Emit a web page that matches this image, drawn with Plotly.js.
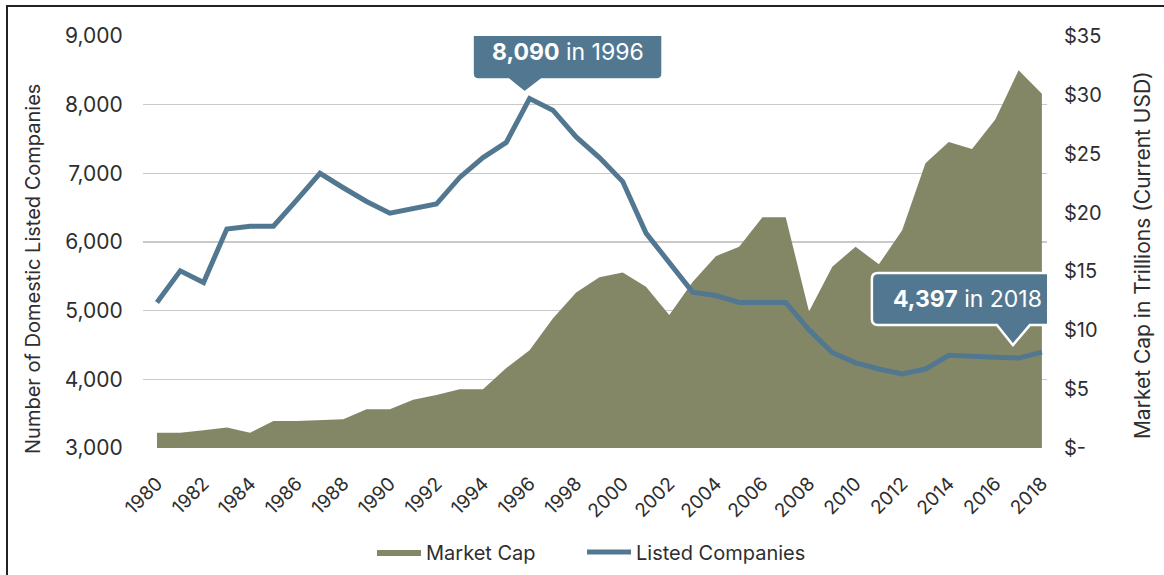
<!DOCTYPE html>
<html>
<head>
<meta charset="utf-8">
<script src="https://cdn.plot.ly/plotly-3.0.1.min.js"></script>
<style>
  html, body { margin: 0; padding: 0; background: #fff; }
  #wrap { position: relative; width: 1164px; height: 575px; overflow: hidden; }
  #chart { width: 1164px; height: 575px; }
  #frame {
    position: absolute; left: 6px; top: 5px; width: 1200px; height: 600px;
    border-top: 2px solid #222; border-left: 2px solid #222;
    pointer-events: none;
  }
</style>
</head>
<body>
<div id="wrap">
  <div id="chart"></div>
  <div id="frame"></div>
</div>
<script>
const years = [1980,1981,1982,1983,1984,1985,1986,1987,1988,1989,
               1990,1991,1992,1993,1994,1995,1996,1997,1998,1999,
               2000,2001,2002,2003,2004,2005,2006,2007,2008,2009,
               2010,2011,2012,2013,2014,2015,2016,2017,2018];

// number of domestic listed companies (left axis)
const listed = [5120,5580,5410,6190,6230,6230,6610,7000,6790,6590,
                6420,6495,6553,6940,7230,7450,8090,7920,7530,7230,
                6880,6130,5690,5270,5220,5120,5120,5120,4720,4390,
                4240,4150,4080,4150,4350,4330,4320,4310,4397];

// market cap, trillions of current USD (right axis)
const marketCap = [1.3,1.3,1.5,1.75,1.3,2.3,2.3,2.35,2.45,3.3,
                   3.3,4.1,4.5,5.0,5.0,6.8,8.3,11.0,13.2,14.5,
                   14.9,13.7,11.3,14.1,16.3,17.1,19.6,19.6,11.6,15.4,
                   17.1,15.6,18.5,24.2,26.0,25.4,27.9,32.1,30.1];

const xTicks = [1980,1982,1984,1986,1988,1990,1992,1994,1996,1998,
                2000,2002,2004,2006,2008,2010,2012,2014,2016,2018];
const leftTicks = [3000,4000,5000,6000,7000,8000,9000];
const leftTickText = ['3,000','4,000','5,000','6,000','7,000','8,000','9,000'];
const rightTicks = [0,5,10,15,20,25,30,35];
const rightTickText = ['$-','$5','$10','$15','$20','$25','$30','$35'];

const calloutYears = [1996, 2018];

function drawChart() {
    const chartDiv = document.getElementById("chart");
    if (!chartDiv) return;

    const font = 'Inter, "Open Sans", sans-serif';
    const textColor = '#2e2e2e';
    const blue = '#527891';

    // speech bubbles, in pixels around the data point
    const bubblePaths = [
        'M -5,6 L 12,19 L 127,19 Q 133,19 133,25 L 133,68 Q 133,74 127,74 ' +
        'L -51,74 Q -57,74 -57,68 L -57,25 Q -57,19 -51,19 L -21,19 Z',
        'M -29,7 L -12,27 L 15,27 Q 21,27 21,33 L 21,73 Q 21,79 15,79 ' +
        'L -164,79 Q -170,79 -170,73 L -170,33 Q -170,27 -164,27 L -45,27 Z'
    ];
    const textShift = [[38, 46], [-74, 53]];

    const shapes = [];
    const annotations = [];
    calloutYears.forEach((yr, i) => {
        const v = listed[years.indexOf(yr)];
        shapes.push({
            type: 'path', xref: 'x', yref: 'y2',
            xsizemode: 'pixel', ysizemode: 'pixel',
            xanchor: yr, yanchor: v,
            path: bubblePaths[i],
            fillcolor: blue, line: { color: '#ffffff', width: 2.5 },
            layer: 'above'
        });
        annotations.push({
            x: yr, y: v, xref: 'x', yref: 'y2',
            xshift: textShift[i][0], yshift: textShift[i][1],
            showarrow: false,
            text: '<b>' + v.toLocaleString('en-US') + '</b> in ' + yr,
            font: { family: font, size: 23, color: '#ffffff' }
        });
    });

    // axis titles sit a little below the middle of the plot in the original
    annotations.push({
        xref: 'paper', yref: 'paper', x: -0.1217, y: 0.4345,
        xanchor: 'center', yanchor: 'middle',
        textangle: -90, showarrow: false,
        text: 'Number of Domestic Listed Companies',
        font: { family: font, size: 20, color: textColor }
    });
    annotations.push({
        xref: 'paper', yref: 'paper', x: 1.105, y: 0.468,
        xanchor: 'center', yanchor: 'middle',
        textangle: -90, showarrow: false,
        text: 'Market Cap in Trillions (Current USD)',
        font: { family: font, size: 21, color: textColor }
    });

    const legendBase = {
        orientation: 'h', xref: 'container', yref: 'container',
        xanchor: 'left', y: 0.04, yanchor: 'middle',
        font: { family: font, size: 20, color: textColor },
        itemwidth: 44
    };

    function render() {
        Plotly.newPlot(chartDiv, [
            {
                x: years,
                y: marketCap,
                yaxis: 'y',
                mode: 'lines',
                fill: 'tozeroy',
                fillcolor: '#838766',
                line: { width: 0, color: '#838766' },
                name: 'Market Cap',
                legend: 'legend'
            },
            {
                x: years,
                y: listed,
                yaxis: 'y2',
                mode: 'lines',
                line: { color: blue, width: 5 },
                name: 'Listed Companies',
                legend: 'legend2'
            }
        ], {
            width: 1164,
            height: 575,
            margin: { l: 143, r: 117, t: 36, b: 127 },
            paper_bgcolor: '#ffffff',
            plot_bgcolor: '#ffffff',
            font: { family: font, color: textColor },
            showlegend: true,
            legend: Object.assign({}, legendBase, { x: 372 / 1164 }),
            legend2: Object.assign({}, legendBase, { x: 582 / 1164 }),
            xaxis: {
                range: [1979.4, 2018.22],
                tickvals: xTicks,
                tickangle: -45,
                ticks: 'outside', ticklen: 16, tickcolor: 'rgba(0,0,0,0)',
                tickfont: { size: 19, color: textColor },
                showgrid: false, zeroline: false, showline: false
            },
            yaxis: {
                side: 'right',
                range: [0, 35],
                tickvals: rightTicks,
                ticktext: rightTickText,
                ticks: 'outside', ticklen: 12, tickcolor: 'rgba(0,0,0,0)',
                tickfont: { size: 20, color: textColor },
                showgrid: false, zeroline: false, showline: false
            },
            yaxis2: {
                overlaying: 'y',
                side: 'left',
                range: [3000, 9000],
                tickvals: leftTicks,
                ticktext: leftTickText,
                ticks: 'outside', ticklen: 15, tickcolor: 'rgba(0,0,0,0)',
                tickfont: { size: 21, color: textColor },
                showgrid: true, gridcolor: '#c9c9c9', gridwidth: 1.2,
                zeroline: false, showline: false
            },
            shapes: shapes,
            annotations: annotations
        }, { displayModeBar: false, staticPlot: true });
    }

    render();
}

window.addEventListener("load", drawChart);
</script>
</body>
</html>
